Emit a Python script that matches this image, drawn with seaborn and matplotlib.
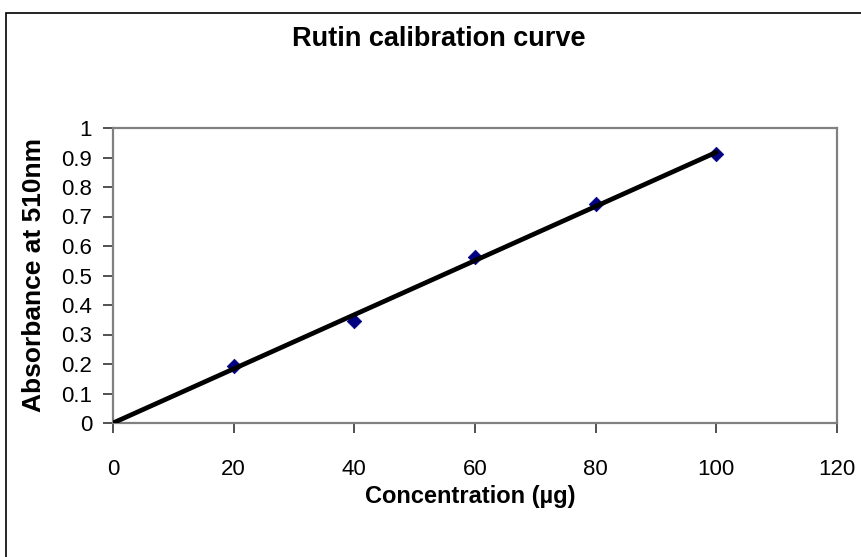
import matplotlib
matplotlib.use("Agg")
import matplotlib.pyplot as plt
import numpy as np
import pandas as pd
import seaborn as sns
from matplotlib.patches import Rectangle

# values
concentration = [20, 40, 60, 80, 100]
absorbance = [0.193, 0.345, 0.563, 0.741, 0.912]

x_ticks = [0, 20, 40, 60, 80, 100, 120]
y_ticks = [0, 0.1, 0.2, 0.3, 0.4, 0.5, 0.6, 0.7, 0.8, 0.9, 1.0]
y_tick_labels = ["0", "0.1", "0.2", "0.3", "0.4", "0.5", "0.6", "0.7", "0.8", "0.9", "1"]
trend_range = [0, 100]

sns.set_theme(style="white")
plt.rcParams['font.family'] = ['Liberation Sans', 'DejaVu Sans']
plt.rcParams['text.color'] = 'black'
plt.rcParams['axes.labelcolor'] = 'black'

# linear trendline forced through the origin (as Excel does with intercept = 0)
slope = np.dot(concentration, absorbance) / np.dot(concentration, concentration)
trend = pd.DataFrame({"x": trend_range, "y": [slope * v for v in trend_range]})
points = pd.DataFrame({"x": concentration, "y": absorbance})

W, H = 861, 557
fig = plt.figure(figsize=(W / 100, H / 100), dpi=100)
fig.patch.set_facecolor("white")
ax = fig.add_axes([113 / W, 1 - 423 / H, (837 - 113) / W, (423 - 128) / H])

sns.scatterplot(data=points, x="x", y="y", marker="D", s=55, color="#000080",
                edgecolor="#000080", linewidth=0.5, ax=ax, zorder=2)
sns.lineplot(data=trend, x="x", y="y", color="black", lw=3.4, ax=ax, zorder=3)

ax.set_xlim(0, 120)
ax.set_ylim(0, 1)
ax.set_xticks(x_ticks)
ax.set_yticks(y_ticks)
ax.set_yticklabels(y_tick_labels)
ax.tick_params(axis="both", direction="out", length=7, width=1.2, color="#333333",
               labelsize=16, labelcolor="black", left=True, bottom=True)
ax.tick_params(axis="x", pad=19)
ax.tick_params(axis="y", pad=8)

for side in ["left", "right", "top", "bottom"]:
    ax.spines[side].set_visible(True)
    ax.spines[side].set_color("#808080")
    ax.spines[side].set_linewidth(1.6)

ax.set_xlabel("Concentration (µg)", fontsize=17, fontweight="bold")
ax.set_ylabel("Absorbance at 510nm", fontsize=19, fontweight="bold")
ax.xaxis.label.set_va("center")
ax.yaxis.label.set_va("center")
ax.xaxis.set_label_coords(0.493, (423 - 497) / 295)
ax.yaxis.set_label_coords((34 - 113) / 724, 0.5)

fig.text(439 / W, 1 - 39 / H, "Rutin calibration curve", ha="center", va="center",
         fontsize=19.5, fontweight="bold")

# chart-area border, running off the right and bottom edges like the reference
fig.add_artist(Rectangle((6 / W, -0.1), 1.2, 1 - 13 / H + 0.1, transform=fig.transFigure,
                         fill=False, edgecolor="black", linewidth=1.2, clip_on=False))

fig.savefig("out.png", dpi=100)
